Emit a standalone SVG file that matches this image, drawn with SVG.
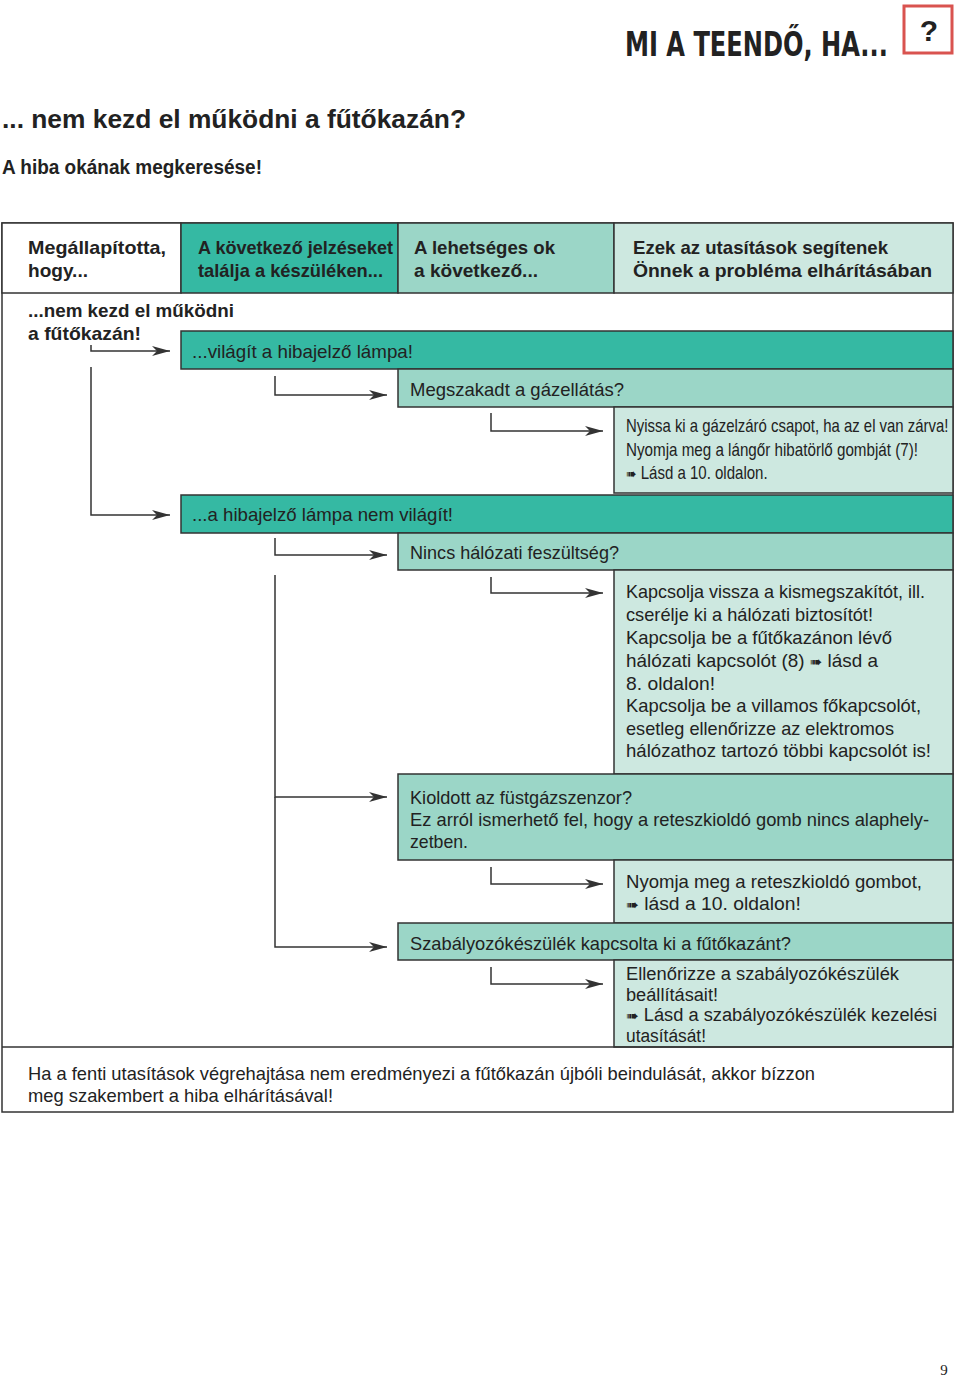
<svg xmlns="http://www.w3.org/2000/svg" width="960" height="1379" viewBox="0 0 960 1379">
<defs>
<style>
text{font-family:"Liberation Sans","DejaVu Sans",sans-serif;fill:#222;}
.h{font-size:19px;font-weight:bold;}
.t{font-size:19px;}
.c{font-size:18px;}
.dark{fill:#35b9a3;stroke:#333;stroke-width:1.5;}
.med{fill:#9bd6c7;stroke:#333;stroke-width:1.5;}
.light{fill:#cde8e0;stroke:#333;stroke-width:1.5;}
.white{fill:#fff;stroke:#333;stroke-width:1.5;}
.con{fill:none;stroke:#333;stroke-width:1.5;}
.sym{font-family:"DejaVu Sans",sans-serif;font-size:15px;}
</style>
<marker id="ah" markerWidth="20" markerHeight="12" refX="18" refY="5" orient="auto" markerUnits="userSpaceOnUse">
<path d="M0,0 L18,5 L0,10 L5,5 z" fill="#333"/>
</marker>
</defs>
<rect width="960" height="1379" fill="#fff"/>

<g id="title">
<g transform="translate(625,56) scale(0.72,1)">
<text x="0" y="0" style="font-family:'DejaVu Sans Condensed','DejaVu Sans',sans-serif;font-weight:bold;font-size:34px" textLength="365" lengthAdjust="spacingAndGlyphs">MI A TEENDŐ, HA...</text>
</g>
<rect x="904" y="6" width="48" height="47" fill="none" stroke="#d9534f" stroke-width="3"/>
<text x="929" y="41" text-anchor="middle" style="font-weight:bold;font-size:30px">?</text>
</g>

<g id="heading">
<text x="2" y="128" style="font-weight:bold;font-size:26px" textLength="464" lengthAdjust="spacingAndGlyphs">... nem kezd el működni a fűtőkazán?</text>
<text x="2" y="174" style="font-weight:bold;font-size:20px" textLength="260" lengthAdjust="spacingAndGlyphs">A hiba okának megkeresése!</text>
</g>

<g id="table-frame">
<rect x="2" y="223" width="951" height="889" class="white"/>
</g>

<g id="header">
<rect x="2" y="223" width="179" height="70" class="white"/>
<rect x="181" y="223" width="217" height="70" class="dark"/>
<rect x="398" y="223" width="216" height="70" class="med"/>
<rect x="614" y="223" width="339" height="70" class="light"/>
<text class="h" x="28" y="254" textLength="138" lengthAdjust="spacingAndGlyphs">Megállapította,</text>
<text class="h" x="28" y="277" textLength="60" lengthAdjust="spacingAndGlyphs">hogy...</text>
<text class="h" x="198" y="254" textLength="195" lengthAdjust="spacingAndGlyphs">A következő jelzéseket</text>
<text class="h" x="198" y="277" textLength="185" lengthAdjust="spacingAndGlyphs">találja a készüléken...</text>
<text class="h" x="414" y="254" textLength="141" lengthAdjust="spacingAndGlyphs">A lehetséges ok</text>
<text class="h" x="414" y="277" textLength="124" lengthAdjust="spacingAndGlyphs">a következő...</text>
<text class="h" x="633" y="254" textLength="255" lengthAdjust="spacingAndGlyphs">Ezek az utasítások segítenek</text>
<text class="h" x="633" y="277" textLength="299" lengthAdjust="spacingAndGlyphs">Önnek a probléma elhárításában</text>
</g>

<g id="start">
<text class="h" x="28" y="317" textLength="206" lengthAdjust="spacingAndGlyphs">...nem kezd el működni</text>
<text class="h" x="28" y="340" textLength="113" lengthAdjust="spacingAndGlyphs">a fűtőkazán!</text>
</g>

<g id="n-vilagit">
<rect x="181" y="331" width="772" height="38" class="dark"/>
<text class="t" x="192" y="358" textLength="221" lengthAdjust="spacingAndGlyphs">...világít a hibajelző lámpa!</text>
</g>

<g id="n-gaz">
<rect x="398" y="369" width="555" height="38" class="med"/>
<text class="t" x="410" y="396" textLength="214" lengthAdjust="spacingAndGlyphs">Megszakadt a gázellátás?</text>
</g>

<g id="n-gaz-fix">
<rect x="614" y="407" width="339" height="86" class="light"/>
<g transform="translate(626,0) scale(0.8,1)">
<text class="c" x="0" y="432" textLength="403" lengthAdjust="spacingAndGlyphs">Nyissa ki a gázelzáró csapot, ha az el van zárva!</text>
<text class="c" x="0" y="456" textLength="365" lengthAdjust="spacingAndGlyphs">Nyomja meg a lángőr hibatörlő gombját (7)!</text>
<text class="c" x="0" y="479" textLength="177" lengthAdjust="spacingAndGlyphs"><tspan class="sym">➠</tspan> Lásd a 10. oldalon.</text>
</g>
</g>

<g id="n-nemvilagit">
<rect x="181" y="495" width="772" height="38" class="dark"/>
<text class="t" x="192" y="521" textLength="261" lengthAdjust="spacingAndGlyphs">...a hibajelző lámpa nem világít!</text>
</g>

<g id="n-halozat">
<rect x="398" y="533" width="555" height="37" class="med"/>
<text class="t" x="410" y="559" textLength="209" lengthAdjust="spacingAndGlyphs">Nincs hálózati feszültség?</text>
</g>

<g id="n-halozat-fix">
<rect x="614" y="570" width="339" height="204" class="light"/>
<text class="t" x="626" y="598" textLength="299" lengthAdjust="spacingAndGlyphs">Kapcsolja vissza a kismegszakítót, ill.</text>
<text class="t" x="626" y="621" textLength="247" lengthAdjust="spacingAndGlyphs">cserélje ki a hálózati biztosítót!</text>
<text class="t" x="626" y="644" textLength="266" lengthAdjust="spacingAndGlyphs">Kapcsolja be a fűtőkazánon lévő</text>
<text class="t" x="626" y="667" textLength="252" lengthAdjust="spacingAndGlyphs">hálózati kapcsolót (8) <tspan class="sym">➠</tspan> lásd a</text>
<text class="t" x="626" y="690" textLength="89" lengthAdjust="spacingAndGlyphs">8. oldalon!</text>
<text class="t" x="626" y="712" textLength="295" lengthAdjust="spacingAndGlyphs">Kapcsolja be a villamos főkapcsolót,</text>
<text class="t" x="626" y="735" textLength="268" lengthAdjust="spacingAndGlyphs">esetleg ellenőrizze az elektromos</text>
<text class="t" x="626" y="757" textLength="305" lengthAdjust="spacingAndGlyphs">hálózathoz tartozó többi kapcsolót is!</text>
</g>

<g id="n-fustgaz">
<rect x="398" y="774" width="555" height="86" class="med"/>
<text class="t" x="410" y="804" textLength="222" lengthAdjust="spacingAndGlyphs">Kioldott az füstgázszenzor?</text>
<text class="t" x="410" y="826" textLength="519" lengthAdjust="spacingAndGlyphs">Ez arról ismerhető fel, hogy a reteszkioldó gomb nincs alaphely-</text>
<text class="t" x="410" y="848" textLength="58" lengthAdjust="spacingAndGlyphs">zetben.</text>
</g>

<g id="n-fustgaz-fix">
<rect x="614" y="860" width="339" height="63" class="light"/>
<text class="t" x="626" y="888" textLength="296" lengthAdjust="spacingAndGlyphs">Nyomja meg a reteszkioldó gombot,</text>
<text class="t" x="626" y="910" textLength="175" lengthAdjust="spacingAndGlyphs"><tspan class="sym">➠</tspan> lásd a 10. oldalon!</text>
</g>

<g id="n-szabalyozo">
<rect x="398" y="923" width="555" height="37" class="med"/>
<text class="t" x="410" y="950" textLength="381" lengthAdjust="spacingAndGlyphs">Szabályozókészülék kapcsolta ki a fűtőkazánt?</text>
</g>

<g id="n-szabalyozo-fix">
<rect x="614" y="960" width="339" height="87" class="light"/>
<text class="c" x="626" y="980" textLength="273" lengthAdjust="spacingAndGlyphs">Ellenőrizze a szabályozókészülék</text>
<text class="c" x="626" y="1001" textLength="92" lengthAdjust="spacingAndGlyphs">beállításait!</text>
<text class="c" x="626" y="1021" textLength="311" lengthAdjust="spacingAndGlyphs"><tspan class="sym">➠</tspan> Lásd a szabályozókészülék kezelési</text>
<text class="c" x="626" y="1042" textLength="80" lengthAdjust="spacingAndGlyphs">utasítását!</text>
</g>

<g id="footer">
<line x1="2" y1="1047" x2="953" y2="1047" class="con"/>
<text class="t" x="28" y="1080" textLength="787" lengthAdjust="spacingAndGlyphs">Ha a fenti utasítások végrehajtása nem eredményezi a fűtőkazán újbóli beindulását, akkor bízzon</text>
<text class="t" x="28" y="1102" textLength="305" lengthAdjust="spacingAndGlyphs">meg szakembert a hiba elhárításával!</text>
</g>

<g id="connectors">
<path class="con" d="M91,345 V351 H170" marker-end="url(#ah)"/>
<path class="con" d="M91,367 V515 H170" marker-end="url(#ah)"/>
<path class="con" d="M275,376 V395 H387" marker-end="url(#ah)"/>
<path class="con" d="M491,413 V431 H603" marker-end="url(#ah)"/>
<path class="con" d="M275,538 V555 H387" marker-end="url(#ah)"/>
<path class="con" d="M275,575 V797 H387" marker-end="url(#ah)"/>
<path class="con" d="M275,797 V947 H387" marker-end="url(#ah)"/>
<path class="con" d="M491,577 V593 H603" marker-end="url(#ah)"/>
<path class="con" d="M491,867 V884 H603" marker-end="url(#ah)"/>
<path class="con" d="M491,967 V984 H603" marker-end="url(#ah)"/>
</g>

<text x="944" y="1375" text-anchor="middle" style="font-family:'Liberation Serif',serif;font-size:15px">9</text>
</svg>
